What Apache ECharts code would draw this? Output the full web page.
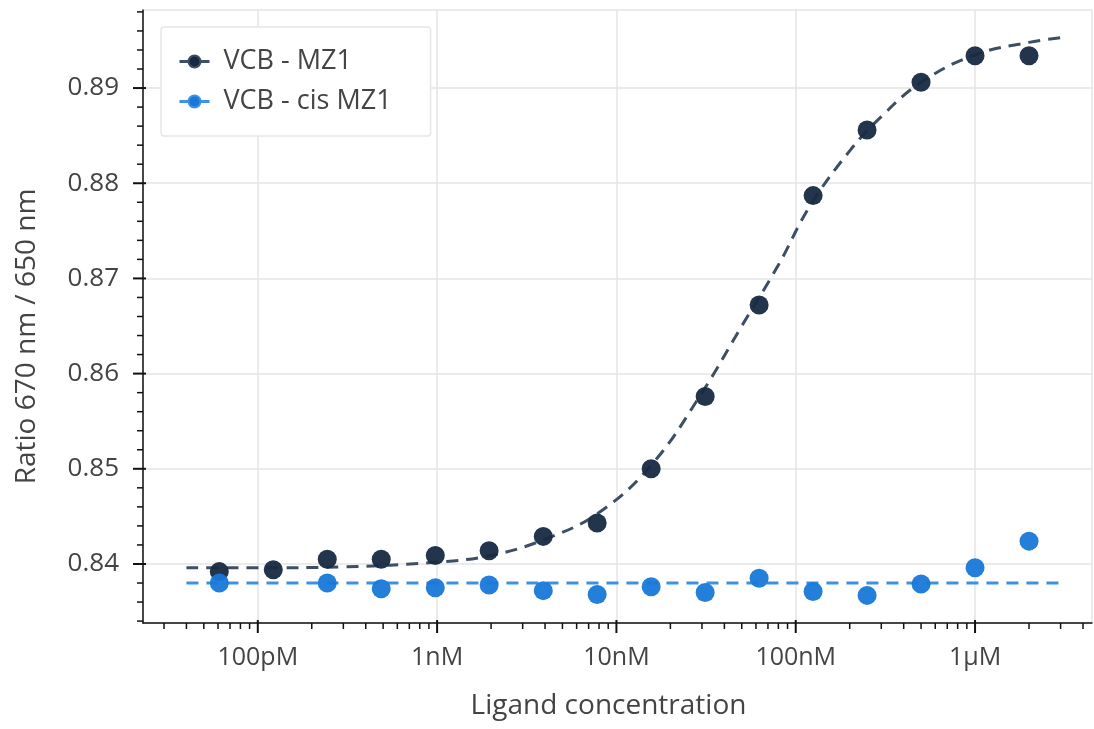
<!DOCTYPE html>
<html><head><meta charset="utf-8">
<script src="https://cdn.jsdelivr.net/npm/echarts@6/dist/echarts.min.js"></script>
<style>html,body{margin:0;padding:0;background:#fff}#c{width:1094px;height:729px}</style>
</head><body><div id="c"></div>
<script>
// ---- data ----
const concentrations = [6.1e-11, 1.22e-10, 2.44e-10, 4.88e-10, 9.77e-10, 1.95e-9, 3.91e-9, 7.81e-9, 1.5625e-8, 3.125e-8, 6.25e-8, 1.25e-7, 2.5e-7, 5e-7, 1e-6, 2e-6];
const mz1Values    = [0.8392, 0.8394, 0.8405, 0.8405, 0.8409, 0.8414, 0.8429, 0.8443, 0.8500, 0.8576, 0.8672, 0.8787, 0.8856, 0.8906, 0.8934, 0.8934];
const cisMz1Values = [0.8380, null,   0.8380, 0.8374, 0.8375, 0.8378, 0.8372, 0.8368, 0.8376, 0.8370, 0.8385, 0.8371, 0.8367, 0.8379, 0.8396, 0.8424];
const mz1FitX = [4e-11, 1e-10, 3e-10, 1e-9, 2e-9, 4e-9, 8e-9, 1.6e-8, 3e-8, 5e-8, 8e-8, 1.2e-7, 2e-7, 3e-7, 5e-7, 1e-6, 2e-6, 3e-6];
const mz1FitY = [0.8396, 0.8396, 0.8397, 0.8402, 0.8409, 0.8426, 0.8454, 0.8506, 0.8580, 0.8650, 0.8714, 0.8776, 0.8834, 0.8870, 0.8906, 0.8935, 0.8948, 0.8953];
const cisFitX = [4e-11, 3e-6];
const cisFitY = [0.8380, 0.8380];
const seriesNames = ['VCB - MZ1', 'VCB - cis MZ1'];
const xTickValues = [1e-10, 1e-9, 1e-8, 1e-7, 1e-6];
const xTickLabels = ['100pM', '1nM', '10nM', '100nM', '1µM'];
const xMinorTicks = [3e-11, 4e-11, 5e-11, 6e-11, 7e-11, 8e-11, 9e-11,
  2e-10, 3e-10, 4e-10, 5e-10, 6e-10, 7e-10, 8e-10, 9e-10,
  2e-9, 3e-9, 4e-9, 5e-9, 6e-9, 7e-9, 8e-9, 9e-9,
  2e-8, 3e-8, 4e-8, 5e-8, 6e-8, 7e-8, 8e-8, 9e-8,
  2e-7, 3e-7, 4e-7, 5e-7, 6e-7, 7e-7, 8e-7, 9e-7,
  2e-6, 3e-6, 4e-6];
const yTickValues = [0.84, 0.85, 0.86, 0.87, 0.88, 0.89];
const yMinorTicks = [0.834, 0.836, 0.838, 0.842, 0.844, 0.846, 0.848, 0.852, 0.854, 0.856, 0.858,
  0.862, 0.864, 0.866, 0.868, 0.872, 0.874, 0.876, 0.878, 0.882, 0.884, 0.886, 0.888, 0.892, 0.894, 0.896, 0.898];
const xMin = 2.29e-11, xMax = 4.49e-6;
const yMin = 0.8338, yMax = 0.8982;

// ---- styling ----
const FONT = 'Open Sans';
const TEXT = '#444';
const DARK_MARK = '#172a41', DARK_LINE = '#3e4f63';
const BLUE_MARK = '#1878d8', BLUE_LINE = '#3b91e4';
const AXIS = '#111';
const GRID = '#e4e4e4';

function xLabel(v) {
  const lv = Math.log10(v);
  for (let i = 0; i < xTickValues.length; i++) {
    if (Math.abs(Math.log10(xTickValues[i]) - lv) < 1e-6) return xTickLabels[i];
  }
  return '';
}

const xTickData = xTickValues.map(v => [v, yMin, 1]).concat(xMinorTicks.map(v => [v, yMin, 0]));
const yTickData = yTickValues.map(v => [xMin, v, 1]).concat(yMinorTicks.map(v => [xMin, v, 0]));

const chart = echarts.init(document.getElementById('c'), null, {renderer: 'canvas'});
chart.setOption({
  animation: false,
  backgroundColor: '#fff',
  textStyle: {fontFamily: FONT},
  grid: {left: 143, right: 2, top: 10, bottom: 106, containLabel: false},
  legend: {
    left: 161, top: 27, orient: 'vertical',
    data: seriesNames.map(n => ({name: n})),
    itemWidth: 30, itemHeight: 15, itemGap: 13,
    padding: [21, 39, 21, 17],
    backgroundColor: '#fff', borderColor: '#e6e6e6', borderWidth: 1.5, borderRadius: 3,
    textStyle: {fontFamily: FONT, fontSize: 27, color: TEXT, padding: [0, 0, 0, 9]},
    lineStyle: {type: 'solid', width: 3},
    selectedMode: false
  },
  xAxis: {
    type: 'log', logBase: 10, min: xMin, max: xMax,
    name: 'Ligand concentration', nameLocation: 'middle', nameGap: 69,
    nameTextStyle: {fontFamily: FONT, fontSize: 28, color: TEXT, padding: [0, 18, 0, 0]},
    axisLine: {show: true, onZero: false, lineStyle: {color: AXIS, width: 1.5}},
    axisTick: {show: false},
    axisLabel: {formatter: xLabel, showMinLabel: false, showMaxLabel: false, margin: 22,
      fontFamily: FONT, fontSize: 25, color: TEXT},
    splitLine: {show: true, lineStyle: {color: GRID, width: 1.5}},
    minorTick: {show: false}
  },
  yAxis: {
    type: 'value', min: yMin, max: yMax,
    name: 'Ratio 670 nm / 650 nm', nameLocation: 'middle', nameGap: 102, nameRotate: 90,
    nameTextStyle: {fontFamily: FONT, fontSize: 28, color: TEXT, padding: [0, 40, 0, 0]},
    axisLine: {show: true, onZero: false, lineStyle: {color: AXIS, width: 1.5}},
    axisTick: {show: false},
    axisLabel: {formatter: v => v.toFixed(2), showMinLabel: false, showMaxLabel: false, margin: 24,
      fontFamily: FONT, fontSize: 26, color: TEXT},
    splitLine: {show: true, lineStyle: {color: GRID, width: 1.5}}
  },
  series: [
    {
      name: seriesNames[0], type: 'line', z: 3,
      data: mz1FitX.map((x, i) => [x, mz1FitY[i]]),
      smooth: 0.4, symbol: 'circle', symbolSize: 15, showSymbol: false,
      itemStyle: {color: DARK_MARK, borderColor: DARK_LINE, borderWidth: 1},
      lineStyle: {color: DARK_LINE, width: 3, type: [12, 8]},
      silent: true
    },
    {
      name: seriesNames[1], type: 'line', z: 3,
      data: cisFitX.map((x, i) => [x, cisFitY[i]]),
      symbol: 'circle', symbolSize: 15, showSymbol: false,
      itemStyle: {color: BLUE_MARK, borderColor: BLUE_LINE, borderWidth: 1},
      lineStyle: {color: BLUE_LINE, width: 3, type: [12, 8]},
      silent: true
    },
    {
      name: seriesNames[0] + ' points', type: 'scatter', z: 4,
      data: concentrations.map((x, i) => [x, mz1Values[i]]),
      symbol: 'circle', symbolSize: 19,
      itemStyle: {color: DARK_MARK, opacity: 0.95}
    },
    {
      name: seriesNames[1] + ' points', type: 'scatter', z: 4,
      data: concentrations.map((x, i) => [x, cisMz1Values[i]]).filter(d => d[1] !== null),
      symbol: 'circle', symbolSize: 19,
      itemStyle: {color: BLUE_MARK, opacity: 0.95}
    },
    {
      name: 'x ticks', type: 'custom', z: 10, clip: false, silent: true,
      encode: {x: 0, y: 1},
      data: xTickData,
      renderItem: (params, api) => {
        const p = api.coord([api.value(0), api.value(1)]);
        const major = api.value(2) === 1;
        return {type: 'line', shape: {x1: p[0], y1: p[1] - (major ? 3 : 0), x2: p[0], y2: p[1] + (major ? 10 : 6)},
          style: {stroke: AXIS, lineWidth: major ? 2 : 1.5}};
      }
    },
    {
      name: 'y ticks', type: 'custom', z: 10, clip: false, silent: true,
      encode: {x: 0, y: 1},
      data: yTickData,
      renderItem: (params, api) => {
        const p = api.coord([api.value(0), api.value(1)]);
        const major = api.value(2) === 1;
        return {type: 'line', shape: {x1: p[0] - (major ? 10 : 6), y1: p[1], x2: p[0] + (major ? 3 : 0), y2: p[1]},
          style: {stroke: AXIS, lineWidth: major ? 2 : 1.5}};
      }
    }
  ]
});
</script></body></html>
